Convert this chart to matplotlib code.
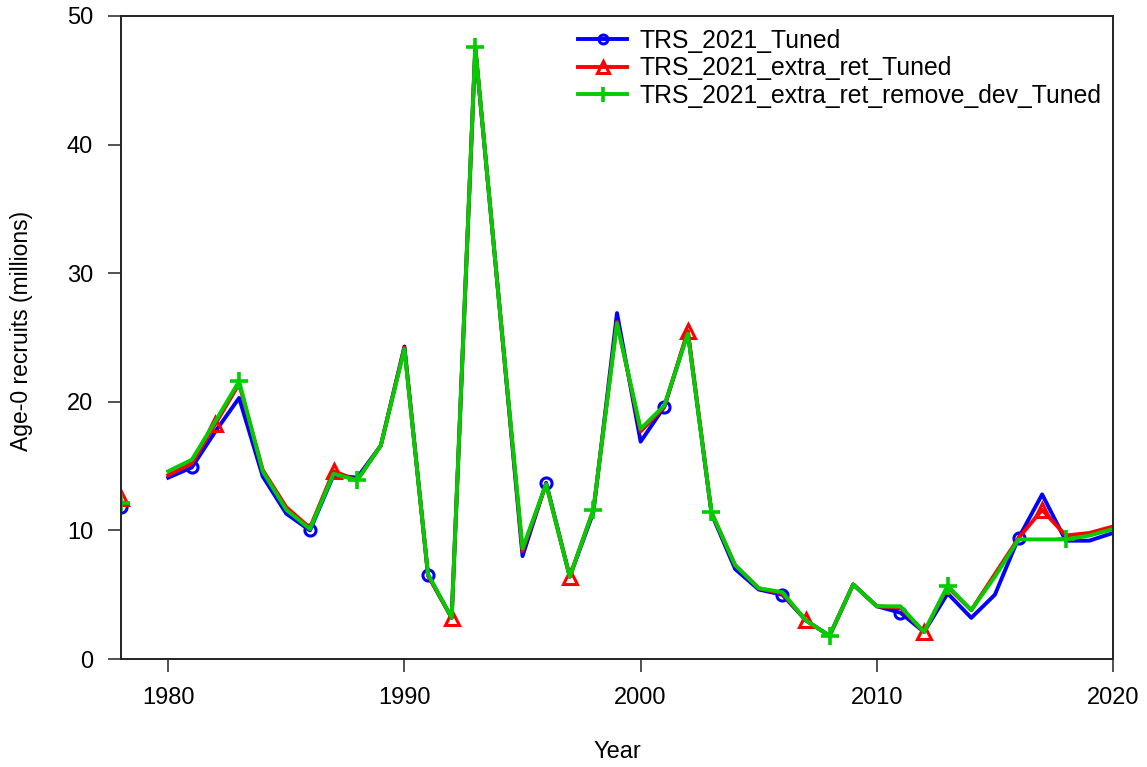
import numpy as np
import matplotlib.pyplot as plt

plt.rcParams['font.family'] = ['Liberation Sans', 'DejaVu Sans']

# years with estimated recruitment
years = np.arange(1980, 2021)

# virgin (equilibrium) recruitment, drawn as a lone point at 1978
virgin_year = 1978
virgin_tuned = 11.8
virgin_extra_ret = 12.5
virgin_remove_dev = 12.1

# Age-0 recruits (millions)
rec_tuned = [14.1, 14.9, 17.7, 20.3, 14.2, 11.3, 10.0, 14.3, 14.1, 16.6,
             24.3, 6.5, 3.2, 47.5, 27.9, 8.0, 13.7, 6.4, 11.4, 26.9,
             16.9, 19.6, 25.4, 11.3, 7.0, 5.4, 5.0, 3.0, 1.8, 5.8,
             4.1, 3.6, 2.1, 5.1, 3.2, 5.0, 9.4, 12.8, 9.2, 9.2,
             9.8]
rec_extra_ret = [14.3, 15.2, 18.3, 21.4, 14.7, 11.8, 10.2, 14.6, 13.9, 16.6,
                 24.2, 6.5, 3.2, 47.6, 27.9, 8.4, 13.6, 6.4, 11.6, 26.2,
                 17.7, 19.6, 25.5, 11.4, 7.3, 5.5, 5.1, 3.0, 1.8, 5.8,
                 4.1, 4.0, 2.1, 5.6, 3.8, 6.6, 9.4, 11.6, 9.6, 9.8,
                 10.3]
rec_remove_dev = [14.6, 15.5, 18.5, 21.6, 14.6, 11.6, 10.1, 14.4, 13.9, 16.6,
                  24.1, 6.6, 3.2, 47.6, 27.9, 8.6, 13.6, 6.4, 11.6, 26.1,
                  17.9, 19.7, 25.3, 11.4, 7.3, 5.5, 5.2, 3.0, 1.8, 5.8,
                  4.1, 4.1, 2.1, 5.7, 3.8, 6.4, 9.3, 9.3, 9.3, 9.6,
                  10.1]

labels = ['TRS_2021_Tuned', 'TRS_2021_extra_ret_Tuned',
          'TRS_2021_extra_ret_remove_dev_Tuned']

fig = plt.figure(figsize=(11.47, 7.67), dpi=100)
ax = fig.add_axes([121 / 1147, 1 - 659 / 767, 992 / 1147, 643 / 767])

series = [
    (rec_tuned, virgin_tuned, '#0000FF', 'o', 8, 2.2, 1),
    (rec_extra_ret, virgin_extra_ret, '#FF0000', '^', 10.5, 2.2, 2),
    (rec_remove_dev, virgin_remove_dev, '#00CD00', '+', 13.5, 2.6, 3),
]

for (vals, virg, col, mk, ms, mew, start), lab in zip(series, labels):
    ax.plot(years, vals, color=col, lw=2.8, marker=mk, ms=ms, mew=mew,
            mfc='none', mec=col, markevery=slice(start, None, 5), label=lab)
    ax.plot([virgin_year], [virg], color=col, marker=mk, ms=ms, mew=mew,
            mfc='none', ls='none')

ax.set_xlim(1978, 2020)
ax.set_ylim(0, 50)
ax.set_xticks([1980, 1990, 2000, 2010, 2020])
ax.set_yticks([0, 10, 20, 30, 40, 50])

for sp in ax.spines.values():
    sp.set_linewidth(1.4)
    sp.set_color('#222222')
ax.tick_params(axis='both', direction='out', length=9.5, width=1.1,
               color='#222222', labelsize=17)
ax.tick_params(axis='x', pad=11)
ax.tick_params(axis='y', pad=10.5)

ax.set_xlabel('Year', fontsize=17)
ax.set_ylabel('Age-0 recruits (millions)', fontsize=16.5)
ax.xaxis.set_label_coords(0.5, -0.128)
ax.yaxis.set_label_coords(-0.089, 0.51)

ax.legend(loc='upper left', bbox_to_anchor=(578 / 1147, 1 - 29 / 767),
          bbox_transform=fig.transFigure, frameon=False, fontsize=17.8,
          handlelength=2.0, handletextpad=0.5, labelspacing=0.14,
          borderpad=0, borderaxespad=0, markerscale=0.8)

fig.savefig('out.png', dpi=100, facecolor='white')
